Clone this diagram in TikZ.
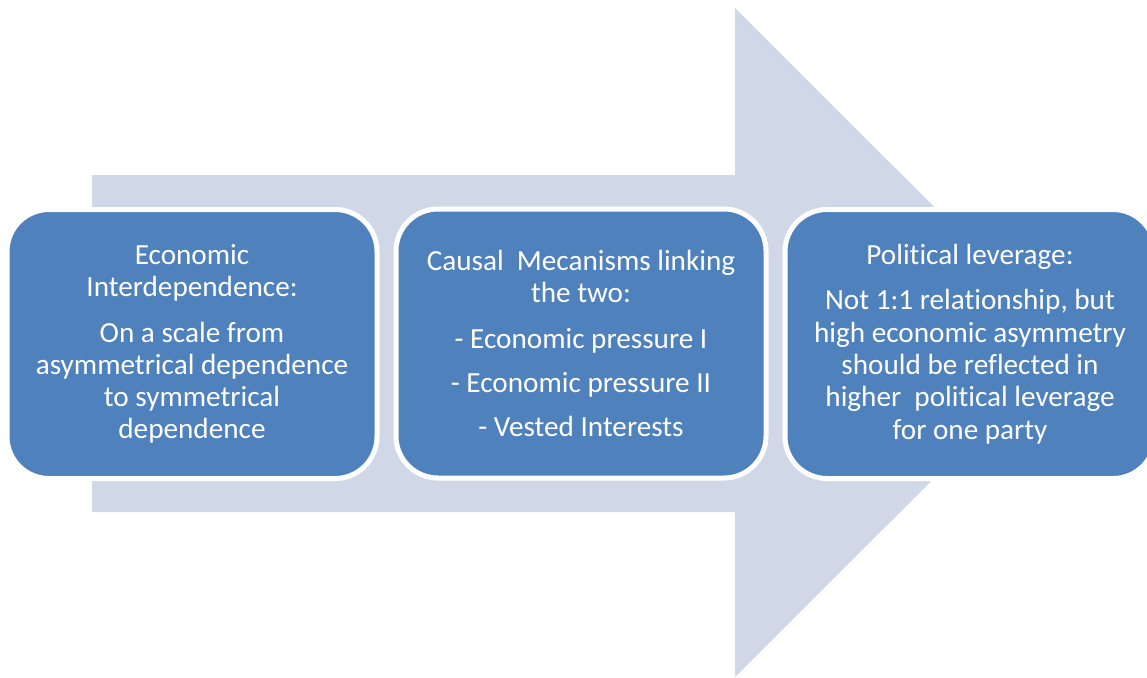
\documentclass[tikz,border=0pt]{standalone}
\usepackage{fontspec}
\setmainfont{Carlito}[Ligatures=NoCommon]
\begin{document}
\begin{tikzpicture}[x=1pt,y=-1pt,
  stage/.style={draw=white, line width=5pt, fill=stageblue, rounded corners=42pt,
    minimum width=370pt, minimum height=269pt, inner sep=0pt, align=center,
    text=white, font=\fontsize{29.2}{32.3}\selectfont}]
\definecolor{stageblue}{HTML}{4F81BD}
\definecolor{flowgray}{HTML}{D0D8E8}
\useasboundingbox (0,0) rectangle (1147,677);
\clip (0,0) rectangle (1147,677);
% broad background arrow
\fill[flowgray] (92,175) -- (735,175) -- (735,8) -- (1070,342.5) -- (735,677)
  -- (735,512) -- (92,512) -- cycle;
% the three stages
\node[stage] (econ) at (192,344) {Economic\\Interdependence:\\[13pt]On a scale from\\asymmetrical dependence\\to symmetrical\\dependence};
\node[stage] (mech) at (581,343.5) {Causal\ \ Mecanisms linking\\the two:\\[13pt]- Economic pressure I\\[12pt]- Economic pressure II\\[12pt]- Vested Interests};
\node[stage] (lever) at (970,344) {Political leverage:\\[13pt]Not 1:1 relationship, but\\high economic asymmetry\\should be reflected in\\higher\ \ political leverage\\for one party};
\end{tikzpicture}
\end{document}
